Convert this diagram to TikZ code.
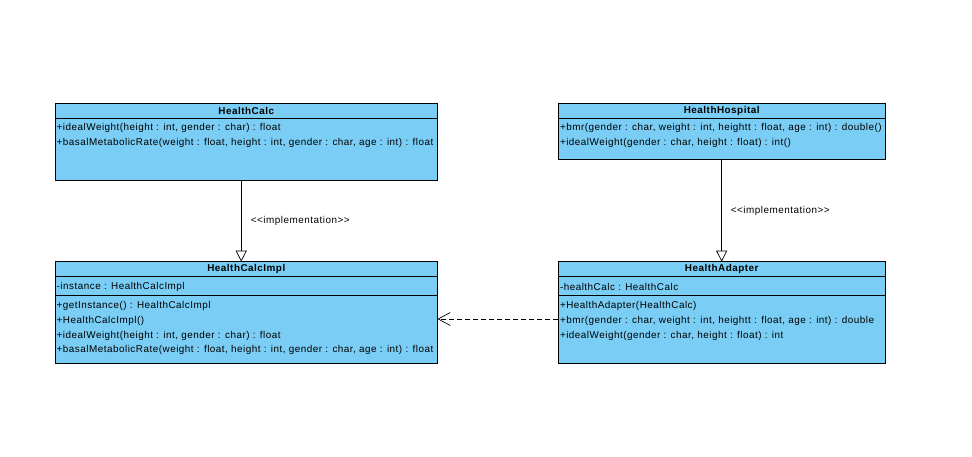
\documentclass[tikz,border=0pt]{standalone}
\usepackage{fontspec}
\setmainfont{Liberation Sans}
\newfontfamily\umlfont[LetterSpace=5]{Liberation Sans}
\usetikzlibrary{arrows.meta}
\definecolor{clsblue}{RGB}{122,206,245}
\begin{document}
\begin{tikzpicture}[x=1pt,y=-1pt,
  clsbox/.style={draw=black, fill=clsblue, line width=0.8pt, anchor=north west,
    inner sep=0pt, outer sep=0pt},
  title/.style={font=\umlfont\fontsize{9.9}{11}\selectfont\bfseries, inner sep=0pt},
  member/.style={font=\umlfont\fontsize{9.9}{11}\selectfont, anchor=west, inner sep=0pt},
  sep/.style={line width=0.8pt},
  realize/.style={line width=0.7pt, -{Triangle[open, length=11pt, width=11pt]}},
  depend/.style={line width=0.7pt, dash pattern=on 5pt off 3pt,
    -{Straight Barb[length=12pt, width=13pt]}},
  stereo/.style={font=\umlfont\fontsize{9.9}{11}\selectfont, anchor=west, inner sep=0pt}]
\useasboundingbox (0,0) rectangle (972,456);

% HealthCalc interface
\node[clsbox, minimum width=382.5pt, minimum height=76.7pt] (hc) at (55,103.3) {};
\node[title] (hct) at (246.3,110.8) {HealthCalc};
\draw[sep] (55,118.3) -- (437.5,118.3);
\node[member] (hc1) at (56.5,128.3) {+idealWeight(height : int, gender : char) : float};
\node[member] (hc2) at (56.5,143.3) {+basalMetabolicRate(weight : float, height : int, gender : char, age : int) : float};

% HealthHospital
\node[clsbox, minimum width=326.7pt, minimum height=55.7pt] (hh) at (558.3,103.3) {};
\node[title] (hht) at (721.7,110.8) {HealthHospital};
\draw[sep] (558.3,118.3) -- (885,118.3);
\node[member] (hh1) at (559.8,128.3) {+bmr(gender : char, weight : int, heightt : float, age : int) : double()};
\node[member] (hh2) at (559.8,143.3) {+idealWeight(gender : char, height : float) : int()};

% HealthCalcImpl
\node[clsbox, minimum width=382.5pt, minimum height=101.6pt] (hci) at (55,261.7) {};
\node[title] (hcit) at (246.3,269.2) {HealthCalcImpl};
\draw[sep] (55,276.7) -- (437.5,276.7);
\draw[sep] (55,295.7) -- (437.5,295.7);
\node[member] (hci0) at (56.5,287.2) {-instance : HealthCalcImpl};
\node[member] (hci1) at (56.5,306) {+getInstance() : HealthCalcImpl};
\node[member] (hci2) at (56.5,320.7) {+HealthCalcImpl()};
\node[member] (hci3) at (56.5,335.7) {+idealWeight(height : int, gender : char) : float};
\node[member] (hci4) at (56.5,350.3) {+basalMetabolicRate(weight : float, height : int, gender : char, age : int) : float};

% HealthAdapter
\node[clsbox, minimum width=326.7pt, minimum height=101.6pt] (ha) at (558.3,261.7) {};
\node[title] (hat) at (721.7,269.2) {HealthAdapter};
\draw[sep] (558.3,276.7) -- (885,276.7);
\draw[sep] (558.3,295.7) -- (885,295.7);
\node[member] (ha0) at (559.8,287.2) {-healthCalc : HealthCalc};
\node[member] (ha1) at (559.8,306) {+HealthAdapter(HealthCalc)};
\node[member] (ha2) at (559.8,320.7) {+bmr(gender : char, weight : int, heightt : float, age : int) : double};
\node[member] (ha3) at (559.8,335.7) {+idealWeight(gender : char, height : float) : int};

% relations
\draw[realize] ([xshift=-5pt]hc.south) -- ([xshift=-5pt]hci.north);
\node[stereo] (lbl1) at (250.7,220.7) {<{}<implementation>{}>};
\draw[realize] (hh.south) -- (ha.north);
\node[stereo] (lbl2) at (730.7,210.7) {<{}<implementation>{}>};
\draw[depend] (ha.west |- 0,319) -- (hci.east |- 0,319);
\end{tikzpicture}
\end{document}
